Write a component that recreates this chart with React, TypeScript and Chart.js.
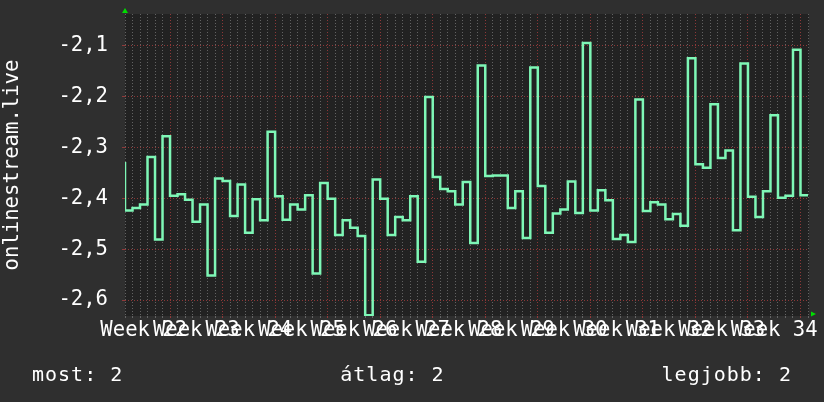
import React, { useEffect, useRef } from "react";
import { Chart, registerables } from "chart.js";

Chart.register(...registerables);

// Daily values, starting one day before the visible range (day -1) through day 90
const startValue = -2.331;
const dailyValues = [
  -2.424, -2.419, -2.412, -2.319, -2.481, -2.278, -2.395, -2.392, -2.403, -2.446,
  -2.412, -2.552, -2.361, -2.366, -2.435, -2.373, -2.468, -2.402, -2.443, -2.269,
  -2.396, -2.442, -2.412, -2.422, -2.394, -2.548, -2.370, -2.401, -2.472, -2.443,
  -2.458, -2.474, -2.630, -2.363, -2.401, -2.472, -2.437, -2.443, -2.396, -2.525,
  -2.201, -2.358, -2.382, -2.386, -2.412, -2.368, -2.488, -2.139, -2.356, -2.355,
  -2.355, -2.419, -2.386, -2.478, -2.143, -2.376, -2.468, -2.430, -2.422, -2.367,
  -2.429, -2.095, -2.424, -2.384, -2.404, -2.480, -2.472, -2.486, -2.206, -2.425,
  -2.408, -2.412, -2.441, -2.431, -2.454, -2.125, -2.333, -2.340, -2.215, -2.321,
  -2.306, -2.463, -2.135, -2.397, -2.437, -2.386, -2.237, -2.399, -2.395, -2.108,
  -2.394,
];
const weekLabels = [
  "Week 22", "Week 23", "Week 24", "Week 25", "Week 26", "Week 27", "Week 28",
  "Week 29", "Week 30", "Week 31", "Week 32", "Week 33", "Week 34",
];
const yTickValues = [-2.6, -2.5, -2.4, -2.3, -2.2, -2.1];
const yMin = -2.6314;
const yMax = -2.0378;
const footerLabels = ["most", "átlag", "legjobb"];
const footerValues = [2, 2, 2];
const axisTitle = "onlinestream.live";

const MONO = "'DejaVu Sans Mono', monospace";
const BG = "#2f2f2f";
const CANVAS_BG = "#222222";
const MAJOR = "rgba(160,60,60,0.85)";
const MINOR = "rgba(120,120,120,0.75)";
const LINE = "#7ef7b6";

const X_MIN = 0;
const X_MAX = dailyValues.length; // 91 days
const FIRST_WEEK_START = -1; // week 22 starts one day before the first visible day

function isMajor(v: number) {
  return Number.isInteger(v) && (v - FIRST_WEEK_START) % 7 === 0;
}

const bgPlugin = {
  id: "rrdBackground",
  beforeDraw(chart: any) {
    const { ctx, chartArea } = chart;
    ctx.save();
    ctx.fillStyle = BG;
    ctx.fillRect(0, 0, chart.width, chart.height);
    ctx.fillStyle = CANVAS_BG;
    ctx.fillRect(chartArea.left, chartArea.top, chartArea.right - chartArea.left + 1, chartArea.bottom - chartArea.top);
    ctx.restore();
  },
  afterDraw(chart: any) {
    const { ctx, chartArea } = chart;
    const { left, top, right, bottom } = chartArea;
    ctx.save();
    ctx.fillStyle = "#00dd00";
    ctx.beginPath();
    ctx.moveTo(left - 3, top - 1);
    ctx.lineTo(left + 3, top - 1);
    ctx.lineTo(left, top - 6);
    ctx.closePath();
    ctx.fill();
    ctx.beginPath();
    ctx.moveTo(right + 3, bottom - 4.5);
    ctx.lineTo(right + 3, bottom + 0.5);
    ctx.lineTo(right + 8, bottom - 2);
    ctx.closePath();
    ctx.fill();
    ctx.restore();
  },
};

export default function App() {
  const canvasRef = useRef<HTMLCanvasElement | null>(null);

  useEffect(() => {
    if (!canvasRef.current) return;
    const allValues = [startValue, ...dailyValues];
    const points = allValues.map((v, i) => ({ x: i - 1, y: v }));
    // close the last day's step
    points.push({ x: X_MAX, y: dailyValues[dailyValues.length - 1] });

    const chart = new Chart(canvasRef.current, {
      type: "line",
      data: {
        datasets: [
          {
            data: points,
            borderColor: LINE,
            borderWidth: 2.5,
            borderJoinStyle: "miter",
            borderCapStyle: "butt",
            pointRadius: 0,
            stepped: "before",
            fill: false,
          },
        ],
      },
      plugins: [bgPlugin],
      options: {
        animation: false,
        responsive: false,
        devicePixelRatio: 1,
        layout: { padding: { top: 14, right: 16, bottom: 0, left: 0 } },
        plugins: { legend: { display: false }, tooltip: { enabled: false } },
        scales: {
          x: {
            type: "linear",
            min: X_MIN,
            max: X_MAX,
            afterBuildTicks(scale: any) {
              const t: any[] = [];
              for (let v = X_MIN; v <= X_MAX + 1e-9; v += 0.5) t.push({ value: v });
              scale.ticks = t;
            },
            afterFit(scale: any) {
              scale.height = 86;
              scale.paddingLeft = 0;
              scale.paddingRight = 0;
              scale.paddingTop = 0;
              scale.paddingBottom = 0;
            },
            ticks: {
              autoSkip: false,
              maxRotation: 0,
              minRotation: 0,
              padding: 0,
              color: "#ffffff",
              font: { family: MONO, size: 20.6 },
              callback(value: any) {
                const v = Number(value);
                const k = (v - (FIRST_WEEK_START + 3.5)) / 7;
                if (Math.abs(k - Math.round(k)) < 1e-9) {
                  const idx = Math.round(k);
                  return weekLabels[idx] ?? "";
                }
                return "";
              },
            },
            grid: {
              drawOnChartArea: true,
              drawTicks: true,
              tickLength: 2,
              lineWidth: 1,
              color(ctx: any) {
                const v = ctx.tick ? ctx.tick.value : NaN;
                if (!Number.isInteger(v)) return "rgba(0,0,0,0)";
                return isMajor(v) ? MAJOR : MINOR;
              },
              tickColor(ctx: any) {
                const v = ctx.tick ? ctx.tick.value : NaN;
                if (!Number.isInteger(v)) return "rgba(0,0,0,0)";
                return isMajor(v) ? MAJOR : MINOR;
              },
            },
            border: { display: false, dash: [1, 2] },
          },
          y: {
            type: "linear",
            min: yMin,
            max: yMax,
            afterBuildTicks(scale: any) {
              scale.ticks = yTickValues.map((v) => ({ value: v }));
            },
            afterFit(scale: any) {
              scale.width = 125;
              scale.paddingLeft = 0;
              scale.paddingRight = 0;
              scale.paddingTop = 0;
              scale.paddingBottom = 0;
            },
            title: {
              display: true,
              text: axisTitle,
              color: "#ffffff",
              font: { family: MONO, size: 20.6 },
              padding: 0,
            },
            ticks: {
              padding: 14,
              color: "#ffffff",
              font: { family: MONO, size: 20.6 },
              callback(value: any) {
                return Number(value).toFixed(1).replace(".", ",");
              },
            },
            grid: {
              color: MAJOR,
              tickColor: MAJOR,
              tickLength: 3,
              lineWidth: 1,
            },
            border: { display: false, dash: [1, 2] },
          },
        },
      },
    } as any);

    return () => chart.destroy();
  }, []);

  return (
    <div
      style={{
        position: "absolute",
        left: 0,
        top: 0,
        width: 824,
        height: 402,
        background: BG,
        overflow: "hidden",
      }}
    >
      <canvas ref={canvasRef} width={824} height={402} style={{ display: "block" }} />
      <div
        style={{
          position: "absolute",
          left: 32,
          right: 32,
          top: 362,
          display: "flex",
          justifyContent: "space-between",
          fontFamily: MONO,
          fontSize: 20,
          letterSpacing: "1px",
          lineHeight: "24px",
          color: "#ffffff",
          whiteSpace: "pre",
        }}
      >
        {footerLabels.map((l, i) => (
          <span key={l}>{`${l}: ${footerValues[i]}`}</span>
        ))}
      </div>
    </div>
  );
}
